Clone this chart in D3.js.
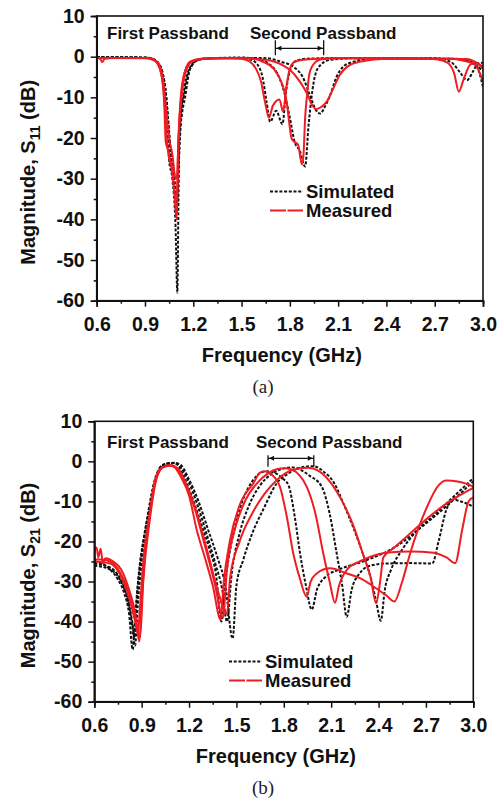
<!DOCTYPE html>
<html><head><meta charset="utf-8">
<script src="https://cdn.jsdelivr.net/npm/d3@7"></script>
<style>
body{margin:0;background:#fff}
svg{display:block}
text{font-family:"Liberation Sans",Arial,sans-serif;font-weight:bold;fill:#111}
text.cap{font-family:"Liberation Serif","Times New Roman",serif;font-weight:normal;fill:#222}
</style>
</head><body>
<svg id="c" width="503" height="800"></svg>
<script>
// ---------- tick labels ----------
const xTicks = [0.6, 0.9, 1.2, 1.5, 1.8, 2.1, 2.4, 2.7, 3.0];
const xMinor = [0.75, 1.05, 1.35, 1.65, 1.95, 2.25, 2.55, 2.85];
const yTicks = [10, 0, -10, -20, -30, -40, -50, -60];
const yMinor = [5, -5, -15, -25, -35, -45, -55];
const legendLabels = ["Simulated", "Measured"];
const bandLabels = ["First Passband", "Second Passband"];
const secondBandA = [1.71, 2.01];
const secondBandB = [1.70, 1.99];

// ---------- S11 (frequency GHz, dB) ----------
const s11SimA = [[0.6,-0.1],[0.9,-0.2],[0.96,-0.8],[1.0,-3],[1.025,-10],[1.043,-20],[1.05,-25.5],[1.07,-30],[1.09,-42],[1.101,-58],[1.108,-35],[1.114,-20],[1.13,-14],[1.149,-10],[1.18,-3],[1.24,-0.6],[1.35,-0.3],[1.5,-0.3],[1.56,-0.8],[1.6,-2],[1.63,-5],[1.655,-11],[1.678,-16],[1.715,-13.3],[1.754,-16.6],[1.775,-9],[1.80,-3.5],[1.84,-1],[1.9,-0.5],[2.2,-0.3],[2.7,-0.4],[2.8,-1.3],[2.86,-4],[2.9,-5.8],[2.94,-3.5],[2.97,-1.6],[3.0,-1.5]];
const s11SimB = [[0.6,-0.1],[0.92,-0.3],[0.98,-1.5],[1.02,-6],[1.045,-16],[1.06,-24],[1.08,-28],[1.097,-38],[1.105,-30],[1.115,-18],[1.14,-9],[1.17,-3.5],[1.22,-1],[1.3,-0.4],[1.5,-0.2],[1.6,-0.6],[1.66,-1.5],[1.72,-4],[1.76,-8],[1.80,-15],[1.83,-21],[1.86,-23],[1.895,-27],[1.916,-17],[1.947,-6.5],[1.98,-2.5],[2.05,-0.8],[2.2,-0.4],[2.8,-0.5],[2.9,-1],[3.0,-3.5]];
const s11SimC = [[0.6,-0.1],[0.93,-0.3],[0.99,-2],[1.03,-9],[1.05,-19],[1.07,-27],[1.09,-33],[1.1,-36],[1.11,-26],[1.125,-15],[1.15,-8],[1.18,-3],[1.23,-0.8],[1.35,-0.3],[1.6,-0.3],[1.66,-0.4],[1.75,-1.3],[1.83,-2.7],[1.88,-5],[1.927,-9.8],[1.96,-13],[1.989,-14],[2.015,-12.5],[2.05,-9.5],[2.09,-5],[2.13,-2.5],[2.2,-1.2],[2.3,-0.5],[2.8,-0.5],[2.9,-0.8],[2.95,-1.5],[3.0,-7.4]];
const s11MeasA = [[0.6,-0.3],[0.62,-0.5],[0.635,-1.3],[0.65,-0.5],[0.7,-0.3],[0.9,-0.3],[0.96,-1],[1.0,-4],[1.02,-12],[1.029,-21],[1.04,-22.5],[1.06,-26],[1.08,-32],[1.097,-40],[1.105,-24],[1.125,-10],[1.15,-3.5],[1.18,-1.2],[1.25,-0.5],[1.4,-0.3],[1.5,-0.5],[1.55,-1.2],[1.59,-3],[1.62,-6],[1.645,-11],[1.67,-15],[1.695,-12],[1.735,-10.5],[1.758,-13.5],[1.78,-7],[1.80,-3],[1.833,-1.2],[1.9,-0.7],[2.1,-0.4],[2.6,-0.4],[2.72,-0.7],[2.78,-1.5],[2.82,-4],[2.85,-8.6],[2.88,-5.5],[2.92,-2],[2.95,-1.5],[3.0,-3]];
const s11MeasB = [[0.6,-0.3],[0.92,-0.3],[0.97,-1.2],[1.0,-4],[1.02,-10],[1.035,-20],[1.05,-25],[1.07,-28],[1.09,-35],[1.1,-33],[1.11,-20],[1.13,-9],[1.16,-3],[1.2,-1],[1.3,-0.4],[1.55,-0.4],[1.63,-1.2],[1.7,-3],[1.75,-6.5],[1.78,-11],[1.798,-16.8],[1.81,-20],[1.83,-21],[1.85,-21.5],[1.875,-26.5],[1.885,-24],[1.895,-15],[1.906,-9.8],[1.92,-4.5],[1.937,-2.5],[1.99,-0.7],[2.1,-0.4],[2.8,-0.5],[2.88,-1],[2.95,-2],[3.0,-6]];
const s11MeasC = [[0.6,-0.3],[0.93,-0.4],[0.98,-1.5],[1.01,-5],[1.03,-12],[1.05,-20],[1.07,-24],[1.09,-30],[1.1,-29],[1.108,-20],[1.12,-11],[1.145,-4],[1.18,-1.5],[1.25,-0.6],[1.5,-0.4],[1.6,-0.6],[1.7,-1.2],[1.76,-2.2],[1.802,-3.3],[1.86,-6],[1.906,-9],[1.94,-12],[1.964,-12.9],[1.99,-12.5],[2.03,-11],[2.07,-7.8],[2.11,-4.5],[2.155,-2.5],[2.24,-1.2],[2.4,-0.5],[2.9,-0.6],[3.0,-2.5]];

// ---------- S21 (frequency GHz, dB) ----------
const s21SimA = [[0.6,-25],[0.65,-25.5],[0.7,-27],[0.75,-29.5],[0.79,-33],[0.82,-38],[0.843,-47],[0.86,-38],[0.889,-25.4],[0.92,-18],[0.953,-11],[0.985,-5],[1.016,-1.5],[1.05,-0.6],[1.09,-0.4],[1.12,-0.5],[1.16,-3.2],[1.22,-9],[1.28,-16],[1.33,-22],[1.37,-28],[1.405,-40],[1.43,-30],[1.47,-20],[1.52,-12],[1.57,-7],[1.62,-4],[1.66,-2.7],[1.70,-2.5],[1.75,-3],[1.79,-4.2],[1.83,-6],[1.87,-14],[1.903,-23],[1.94,-31],[1.977,-37],[2.01,-32],[2.06,-29],[2.15,-27],[2.3,-25],[2.5,-21.5],[2.7,-15.5],[2.85,-10.5],[3.0,-5]];
const s21SimB = [[0.6,-25.5],[0.7,-26.5],[0.76,-29],[0.81,-34],[0.84,-40],[0.855,-44],[0.87,-34],[0.9,-23],[0.94,-13],[0.98,-5],[1.02,-1.5],[1.06,-0.6],[1.1,-0.5],[1.14,-1.2],[1.19,-4.5],[1.25,-10.5],[1.31,-18],[1.37,-26],[1.41,-32],[1.44,-40],[1.47,-28],[1.52,-18],[1.58,-11],[1.65,-6],[1.72,-3.2],[1.79,-1.9],[1.85,-1.5],[1.90,-2],[1.96,-3.5],[2.04,-6.3],[2.09,-13],[2.135,-23],[2.17,-31],[2.198,-38.8],[2.23,-32],[2.28,-28],[2.35,-26],[2.45,-25.5],[2.6,-25.4],[2.74,-25.5],[2.78,-20],[2.83,-12],[2.87,-9.6],[2.92,-10],[3.0,-11.3]];
const s21SimC = [[0.6,-26],[0.7,-27],[0.784,-31.3],[0.82,-36],[0.84,-41],[0.858,-46],[0.875,-36],[0.9,-25],[0.94,-14],[0.98,-6],[1.02,-1.8],[1.06,-0.6],[1.11,-0.35],[1.15,-1],[1.2,-4.5],[1.26,-10],[1.32,-17],[1.38,-24],[1.43,-31],[1.476,-44.2],[1.5,-31],[1.543,-24.6],[1.6,-18],[1.67,-12],[1.755,-5.5],[1.83,-3],[1.90,-1.6],[1.987,-1.2],[2.05,-2.5],[2.12,-5.5],[2.177,-10.5],[2.24,-16.5],[2.30,-23],[2.35,-29],[2.385,-35],[2.414,-39.8],[2.44,-32],[2.48,-27],[2.55,-22],[2.65,-17],[2.75,-13.5],[2.87,-9],[3.0,-4.2]];
const s21MeasA = [[0.6,-22.5],[0.615,-21.5],[0.625,-24],[0.64,-21.8],[0.655,-25.5],[0.67,-24.2],[0.72,-25],[0.77,-27],[0.82,-32],[0.86,-38],[0.885,-45],[0.9,-35],[0.92,-24],[0.95,-14],[0.98,-6],[1.01,-2.5],[1.05,-1.2],[1.08,-1],[1.11,-1.5],[1.15,-4],[1.2,-8.5],[1.248,-17],[1.3,-24],[1.35,-31],[1.40,-39.5],[1.42,-30],[1.46,-19.6],[1.53,-10],[1.607,-5.5],[1.65,-2.8],[1.68,-2.5],[1.72,-3.2],[1.775,-6.3],[1.82,-14],[1.86,-23],[1.90,-29],[1.945,-33.8],[1.97,-30],[2.008,-28],[2.093,-26.7],[2.2,-28],[2.3,-29.5],[2.37,-31.3],[2.45,-33.5],[2.5,-35],[2.55,-30],[2.6,-23],[2.7,-12],[2.78,-6],[2.83,-4.8],[2.9,-5],[2.95,-5.5],[3.0,-6.3]];
const s21MeasB = [[0.6,-24.5],[0.65,-24.5],[0.7,-25],[0.76,-27.5],[0.82,-33],[0.86,-40],[0.875,-43],[0.89,-36],[0.91,-25],[0.95,-13],[0.99,-4],[1.03,-1.5],[1.08,-1.1],[1.12,-1.6],[1.17,-5],[1.23,-11],[1.3,-21],[1.36,-30],[1.415,-39],[1.44,-27],[1.49,-17],[1.56,-9.5],[1.63,-5.5],[1.7,-3],[1.76,-1.9],[1.808,-1.7],[1.86,-2.2],[1.9,-3.5],[1.945,-6.3],[2.0,-13],[2.05,-23],[2.09,-30],[2.124,-35.3],[2.15,-31],[2.2,-27],[2.28,-25],[2.35,-23.8],[2.45,-22.8],[2.6,-22.5],[2.75,-22.8],[2.83,-24],[2.885,-25.4],[2.93,-17],[2.97,-10],[3.0,-9]];
const s21MeasC = [[0.6,-25],[0.7,-25.5],[0.76,-28],[0.82,-34],[0.86,-40],[0.89,-44],[0.91,-30],[0.95,-15],[0.99,-5],[1.03,-1.6],[1.08,-1],[1.13,-1.8],[1.18,-5.5],[1.25,-13],[1.32,-23],[1.38,-32],[1.44,-38],[1.46,-29],[1.52,-20],[1.6,-13],[1.68,-8],[1.76,-4.5],[1.85,-2.2],[1.955,-1.6],[2.02,-2.4],[2.1,-5.5],[2.177,-10.5],[2.24,-16],[2.30,-23],[2.35,-29],[2.384,-35.4],[2.41,-30],[2.43,-24],[2.5,-21.5],[2.6,-18],[2.7,-14.5],[2.85,-10],[3.0,-6.6]];

const RED = "#ee1c23";
const svg = d3.select("#c");

function panel(o) {
  const x = d3.scaleLinear().domain([0.6, 3.0]).range([o.l, o.r]);
  const y = d3.scaleLinear().domain([-60, 10]).range([o.b, o.t]);
  const g = svg.append("g");
  const clipId = "clip" + o.id;
  g.append("clipPath").attr("id", clipId).append("rect")
    .attr("x", o.l).attr("y", o.t).attr("width", o.r - o.l).attr("height", o.b - o.t);
  const line = d3.line().x(d => x(d[0])).y(d => y(d[1])).curve(d3.curveMonotoneX);
  const plot = g.append("g").attr("clip-path", `url(#${clipId})`);
  o.sims.forEach(s => plot.append("path").attr("d", line(s)).attr("fill", "none")
    .attr("stroke", "#111").attr("stroke-width", 2).attr("stroke-dasharray", "3,1.7"));
  o.meas.forEach(s => plot.append("path").attr("d", line(s)).attr("fill", "none")
    .attr("stroke", RED).attr("stroke-width", 2));

  // frame
  g.append("rect").attr("x", o.l).attr("y", o.t).attr("width", o.r - o.l).attr("height", o.b - o.t)
    .attr("fill", "none").attr("stroke", "#111").attr("stroke-width", 1.6);

  // axes
  const ax = g.append("g").attr("transform", `translate(0,${o.b})`)
    .call(d3.axisBottom(x).tickValues(xTicks).tickSize(6).tickPadding(10).tickFormat(d3.format(".1f")));
  const axm = g.append("g").attr("transform", `translate(0,${o.b})`)
    .call(d3.axisBottom(x).tickValues(xMinor).tickSize(3).tickFormat(""));
  const ay = g.append("g").attr("transform", `translate(${o.l},0)`)
    .call(d3.axisLeft(y).tickValues(yTicks).tickSize(6).tickPadding(6).tickFormat(d => d));
  const aym = g.append("g").attr("transform", `translate(${o.l},0)`)
    .call(d3.axisLeft(y).tickValues(yMinor).tickSize(3).tickFormat(""));
  [ax, axm, ay, aym].forEach(a => {
    a.select(".domain").attr("stroke", "#111").attr("stroke-width", 1.6);
    a.selectAll(".tick line").attr("stroke", "#111").attr("stroke-width", 1.5);
    a.selectAll("text").attr("font-size", 19.5).attr("font-family", '"Liberation Sans",Arial,sans-serif')
      .attr("font-weight", "bold").attr("fill", "#111");
  });

  // axis titles
  g.append("text").attr("x", (o.l + o.r) / 2 - 8).attr("y", o.b + 61).attr("text-anchor", "middle")
    .attr("font-size", 20).text("Frequency (GHz)");
  const yt = g.append("text").attr("transform", `translate(35,${(o.t + o.b) / 2 + 14}) rotate(-90)`)
    .attr("text-anchor", "middle").attr("font-size", 20);
  yt.append("tspan").text("Magnitude, S");
  yt.append("tspan").attr("font-size", 14).attr("dy", 5).text(o.sub);
  yt.append("tspan").attr("dy", -5).text(" (dB)");

  // caption
  g.append("text").attr("class", "cap").attr("x", 263).attr("y", o.b + 92).attr("text-anchor", "middle")
    .attr("font-size", 19).text(o.cap);

  // band labels
  g.append("text").attr("x", 107).attr("y", o.t + o.bandDy).attr("font-size", 17).text(bandLabels[0]);
  g.append("text").attr("x", o.secondX).attr("y", o.t + o.bandDy).attr("font-size", 17).text(bandLabels[1]);
  const ya = o.t + o.arrowDy, x1 = x(o.band[0]), x2 = x(o.band[1]);
  g.append("line").attr("x1", x1).attr("x2", x2).attr("y1", ya).attr("y2", ya).attr("stroke", "#111").attr("stroke-width", 1.3);
  g.append("line").attr("x1", x1).attr("x2", x1).attr("y1", ya - o.barUp).attr("y2", ya + o.barDown).attr("stroke", "#111").attr("stroke-width", 1.3);
  g.append("line").attr("x1", x2).attr("x2", x2).attr("y1", ya - o.barUp).attr("y2", ya + o.barDown).attr("stroke", "#111").attr("stroke-width", 1.3);
  g.append("path").attr("d", `M${x1 + 1},${ya} l5,-2.5 l0,5 Z M${x2 - 1},${ya} l-5,-2.5 l0,5 Z`).attr("fill", "#111");

  // legend
  const lx = o.legX, ly = o.legY;
  g.append("line").attr("x1", lx).attr("x2", lx + 33).attr("y1", ly).attr("y2", ly)
    .attr("stroke", "#111").attr("stroke-width", 2).attr("stroke-dasharray", "3,1.7");
  g.append("line").attr("x1", lx).attr("x2", lx + 33).attr("y1", ly + 19).attr("y2", ly + 19)
    .attr("stroke", RED).attr("stroke-width", 2).attr("stroke-dasharray", "16,1.5");
  g.append("text").attr("x", lx + 36).attr("y", ly + 6.5).attr("font-size", 18.5).text(legendLabels[0]);
  g.append("text").attr("x", lx + 36).attr("y", ly + 25.5).attr("font-size", 18.5).text(legendLabels[1]);
}

panel({id: "a", l: 96.7, r: 483, t: 16, b: 300.7, sub: "11", cap: "(a)",
  sims: [s11SimA, s11SimB, s11SimC], meas: [s11MeasA, s11MeasB, s11MeasC],
  band: secondBandA, secondX: 250, bandDy: 23, arrowDy: 32.3, barUp: 8, barDown: 7,
  legX: 270, legY: 191.5});
panel({id: "b", l: 94.3, r: 473.3, t: 421.3, b: 701.7, sub: "21", cap: "(b)",
  sims: [s21SimA, s21SimB, s21SimC], meas: [s21MeasA, s21MeasB, s21MeasC],
  band: secondBandB, secondX: 256, bandDy: 26.5, arrowDy: 37, barUp: 3, barDown: 8.5,
  legX: 229, legY: 661.5});
</script>
</body></html>
